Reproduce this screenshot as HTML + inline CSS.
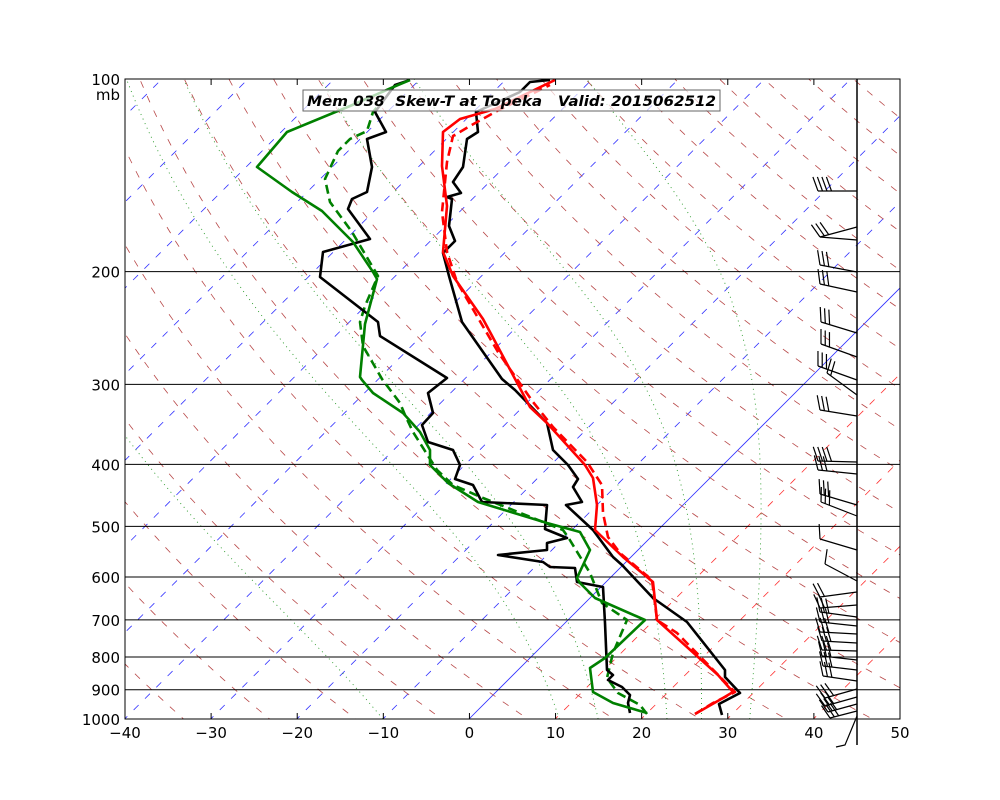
<!DOCTYPE html>
<html><head><meta charset="utf-8"><style>
html,body{margin:0;padding:0;background:#fff;}
body{width:1000px;height:800px;position:relative;overflow:hidden;font-family:"DejaVu Sans","Liberation Sans",sans-serif;}
svg{position:absolute;left:0;top:0;}
.t{font-family:"DejaVu Sans","Liberation Sans",sans-serif;font-size:15px;fill:#000;}
</style></head><body>
<svg id="s" width="1000" height="800" viewBox="0 0 1000 800" xmlns="http://www.w3.org/2000/svg">
<defs><clipPath id="c"><rect x="125" y="79" width="775" height="640"/></clipPath></defs>
<g id="bg" clip-path="url(#c)"></g>
<g id="hl"></g>
<g id="tr" clip-path="url(#c)" fill="none" stroke-linejoin="round"></g>
<g id="wb" stroke="#000" stroke-width="1.2" fill="none"></g>
<rect x="125" y="79" width="775" height="640" fill="none" stroke="#000" stroke-width="1"/>
<line x1="857" y1="79" x2="857" y2="745" stroke="#000" stroke-width="1.5"/>
<g id="ticks" stroke="#000" stroke-width="1"></g>
<g id="lab"></g>
<rect x="303" y="90" width="417" height="21" fill="#fff" fill-opacity="0.7" stroke="#666" stroke-width="1"/>
<text x="307" y="106" style="font-family:'DejaVu Sans','Liberation Sans',sans-serif;font-size:14px;font-weight:bold;font-style:italic;white-space:pre" xml:space="preserve" textLength="409" lengthAdjust="spacingAndGlyphs">Mem 038  Skew-T at Topeka   Valid: 2015062512</text>
<text class="t" x="120" y="85" text-anchor="end">100</text>
<text class="t" x="120" y="100" text-anchor="end">mb</text>
</svg>
<script>
var NS="http://www.w3.org/2000/svg";
function el(par,tag,at){var e=document.createElementNS(NS,tag);for(var k in at)e.setAttribute(k,at[k]);document.getElementById(par).appendChild(e);return e;}
function Y(p){return 79+640*Math.log10(p/100);}
function X(T,p){return 469+8.61*T+(719-Y(p));}
for(var T=-120;T<=50;T+=10){
 var a={x1:X(T,1050),y1:Y(1050),x2:X(T,90),y2:Y(90),"stroke-width":0.8};
 if(T==0){a.stroke="#3030ff";}
 else if(T<0){a.stroke="#3030ff";a["stroke-dasharray"]="7,9";}
 else {a.stroke="#ff3030";a["stroke-dasharray"]="7,9";}
 el("bg","line",a);
}
for(var th=220;th<=500;th+=10){
 var pts=[];for(var p=1050;p>=90;p-=10){var t=th*Math.pow(p/1000,0.2857)-273.15;pts.push(X(t,p).toFixed(1)+","+Y(p).toFixed(1));}
 el("bg","polyline",{points:pts.join(" "),fill:"none",stroke:"#b84848","stroke-width":0.8,"stroke-dasharray":"7,9"});
}
function es(tc){return 6.112*Math.exp(17.67*tc/(tc+243.5));}
[-10,10.5,15,23,27,32.6].forEach(function(t0){
 var Tk=t0+273.15,pts=[];
 for(var p=1000;p>=100;p-=5){
  pts.push(X(Tk-273.15,p).toFixed(1)+","+Y(p).toFixed(1));
  var e=es(Tk-273.15),rs=0.622*e/(p-e);
  var d=(287*Tk+2.5e6*rs)/(p*(1004+2.5e6*2.5e6*rs*0.622/(287*Tk*Tk)));
  Tk-=d*5;
 }
 el("bg","polyline",{points:pts.join(" "),fill:"none",stroke:"#2a9a2a","stroke-width":0.9,"stroke-dasharray":"1,4"});
});
[200,300,400,500,600,700,800,900,1000].forEach(function(p){
 var y=Y(p);
 if(p<1000)el("hl","line",{x1:125,y1:y,x2:900,y2:y,stroke:"#000","stroke-width":1});
 var t=el("lab","text",{x:120,y:y+6,"text-anchor":"end","class":"t"});t.textContent=p;
});
for(var i=0;i<=9;i++){
 var x=125+86.11*i;
 el("ticks","line",{x1:x,y1:719,x2:x,y2:713});
 el("ticks","line",{x1:x,y1:79,x2:x,y2:85});
 var v=-40+10*i;
 var t=el("lab","text",{x:x,y:738,"text-anchor":"middle","class":"t"});t.textContent=(v<0?"\u2212"+(-v):v);
}
function tr(pts,col,dash){var a={points:pts,stroke:col,"stroke-width":2.6};if(dash)a["stroke-dasharray"]="9,5";el("tr","polyline",a);}
tr("722,715 719,704 740,693 725,677 725,670 687,622 653,598 622,565 613,557 593,530 566,505 582,502 573,487 578,479 568,465 553,450 547,423 515,390 502,379 462,322 449,276 443,253 455,241 449,226 452,199 447,197 461,193 453,182 463,167 467,139 478,132 476,112 520,92 530,82 550,80","#000");
tr("647,714 640,705 618,693 607,678 613,653 627,620 602,603 590,573 568,537 563,530 533,518 483,498 453,485 437,470 413,432 405,415 400,403 382,379 363,346 360,322 365,306 378,276 352,232 330,202 325,179 338,151 350,139 367,131 373,112 378,106","#008000",true);
tr("695,714 713,703 735,692 730,687 677,633 657,620 652,580 620,553 608,537 603,513 602,485 587,462 553,427 533,402 498,352 457,282 447,252 442,212 447,162 453,136 470,126 497,111 550,85","#ff0000",true);
tr("695,714 723,698 733,692 718,675 657,620 653,582 623,557 595,530 597,505 593,478 585,465 547,423 530,407 490,332 483,319 453,276 443,252 447,206 442,166 443,132 460,119 495,109 555,80","#ff0000");
tr("630,713 628,703 630,695 622,687 608,680 613,675 607,670 605,623 603,587 577,582 575,568 550,567 543,562 498,555 547,550 547,543 567,538 545,529 547,505 482,502 473,485 455,479 460,465 453,450 428,442 422,425 433,413 428,393 447,378 380,336 378,322 320,277 323,252 370,239 348,209 352,199 367,192 372,167 367,139 386,132 375,112 395,85 410,80","#000");
tr("647,713 613,703 593,692 590,668 605,658 645,620 595,598 580,583 577,578 590,550 580,532 547,523 478,502 448,483 430,465 430,450 420,432 403,413 373,393 362,380 360,377 365,324 377,279 373,272 353,242 322,211 292,192 257,167 287,132 350,106 398,85 410,80","#008000");
function barb(y0,xt,yt,n){
 var dx=xt-857,dy=yt-y0,L=Math.hypot(dx,dy),ux=dx/L,uy=dy/L;
 el("wb","line",{x1:857,y1:y0,x2:xt,y2:yt});
 var px=-uy,py=ux; if(py>0){px=-px;py=-py;}
 var bx=0.94*px+0.34*ux,by=0.94*py+0.34*uy;
 for(var i=0;i<n;i++){var sx=xt-ux*i*4.5,sy=yt-uy*i*4.5;el("wb","line",{x1:sx,y1:sy,x2:sx+bx*15,y2:sy+by*15});}
}
[[191,818,191,4],[227,820,237,3],[240,820,237,0],[272,820,265,3],[292,820,284,3],[333,821,322,3],[357,821,344,3],[380,818,366,3],[395,827,373,2],[416,820,410,3],[462,818,461,4],[474,818,470,3],[505,820,494,3],[516,821,502,3],[550,820,539,1],[581,825,564,1],
[592,820,597,2],[605,820,608,2],[617,820,612,3],[626,820,622,3],[634,820,632,3],[643,822,641,3],[651,822,650,3],[660,822,656,3],[670,823,666,3],[681,823,676,3],[689,825,698,3],[697,825,706,3],[704,828,712,3],[711,830,718,3]].forEach(function(b){barb(b[0],b[1],b[2],b[3]);});
el("wb","polyline",{points:"857,716 845,745 836,747"});
</script>
</body></html>
